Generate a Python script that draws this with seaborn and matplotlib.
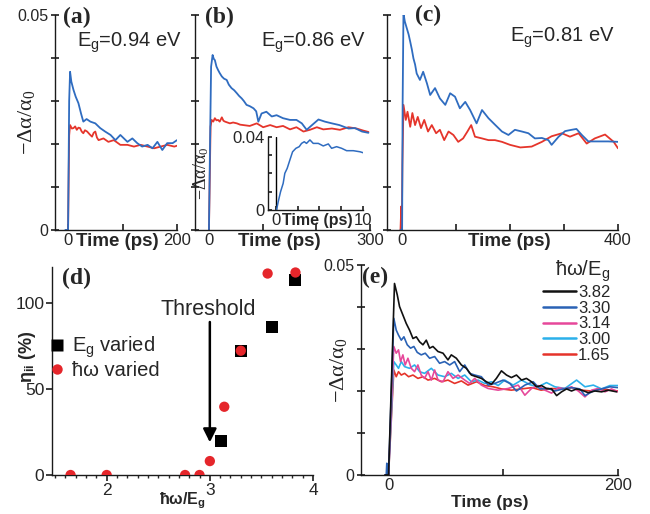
import matplotlib
matplotlib.use('Agg')
import matplotlib.pyplot as plt
from matplotlib.lines import Line2D
from matplotlib.ticker import MultipleLocator
import seaborn as sns

# ---------------- data ----------------
# (a) Eg = 0.94 eV
a_blue_t = [-5, 0, 2, 3.7, 6, 9.9, 14, 19, 24, 28, 34, 41, 50, 59, 68, 78, 87, 96, 109, 118, 127, 136, 146, 155, 164, 173, 182, 192, 200]
a_blue_v = [0, 0, 0.030, 0.0368, 0.0345, 0.0326, 0.031, 0.0295, 0.0270, 0.0252, 0.0258, 0.0252, 0.0248, 0.0237, 0.0229, 0.0221, 0.0209, 0.0221, 0.0205, 0.0213, 0.0202, 0.0194, 0.0198, 0.019, 0.0205, 0.0186, 0.0202, 0.0202, 0.0209]
a_red_t = [0, 2, 3.7, 7, 10, 13, 16, 19, 22, 25, 28, 31, 35, 40, 44, 47, 50, 53, 56, 65, 74, 84, 96, 109, 121, 133, 146, 158, 170, 182, 195, 200]
a_red_v = [0, 0.022, 0.0244, 0.0236, 0.0237, 0.0241, 0.0233, 0.0238, 0.0237, 0.0229, 0.0225, 0.0232, 0.0229, 0.0222, 0.0217, 0.0226, 0.0229, 0.0215, 0.0209, 0.0213, 0.0205, 0.0209, 0.0198, 0.0198, 0.0194, 0.0198, 0.0194, 0.019, 0.0194, 0.0198, 0.0194, 0.0196]

# (b) Eg = 0.86 eV
b_blue_t = [0, 2, 4, 6.8, 9, 11, 14, 17, 20, 24, 28, 33, 37, 42, 47, 52, 56, 61, 65, 70, 76, 83, 88, 92, 98, 107, 117, 126, 138, 151, 163, 173, 182, 192, 204, 216, 229, 243, 260, 272, 285, 297]
b_blue_v = [0, 0.02, 0.038, 0.0407, 0.0398, 0.0395, 0.0380, 0.0372, 0.0365, 0.0357, 0.0352, 0.0349, 0.0338, 0.033, 0.0325, 0.0318, 0.0312, 0.0306, 0.0300, 0.0291, 0.0288, 0.0283, 0.0276, 0.0252, 0.0271, 0.0275, 0.0264, 0.0267, 0.026, 0.0256, 0.0256, 0.0248, 0.0233, 0.0244, 0.0257, 0.0252, 0.0248, 0.0244, 0.0236, 0.0237, 0.0229, 0.0226]
b_red_t = [0, 3, 5, 8, 11, 14, 17, 20, 24, 27, 30, 39, 45, 52, 58, 64, 76, 89, 101, 114, 126, 138, 151, 163, 176, 188, 201, 213, 229, 244, 260, 275, 288, 297]
b_red_v = [0, 0.024, 0.0256, 0.0252, 0.026, 0.0255, 0.0256, 0.0252, 0.0262, 0.0254, 0.0252, 0.0248, 0.0250, 0.0248, 0.0245, 0.0244, 0.0242, 0.0248, 0.0239, 0.0244, 0.0239, 0.0242, 0.0234, 0.0239, 0.0229, 0.0233, 0.0239, 0.0234, 0.0236, 0.0233, 0.0239, 0.0236, 0.0231, 0.0228]

# (b) inset, first 10 ps
ins_t = [0.08, 0.27, 0.54, 0.84, 1.03, 1.3, 1.61, 1.92, 2.3, 2.68, 2.95, 3.26, 3.52, 3.91, 4.29, 4.87, 5.44, 6.02, 6.4, 6.97, 7.55, 8.12, 8.89, 9.66, 10.0]
ins_v = [0, 0.0045, 0.01, 0.0146, 0.0201, 0.0228, 0.0274, 0.0319, 0.0338, 0.0347, 0.0365, 0.0374, 0.0365, 0.0384, 0.0365, 0.0365, 0.0351, 0.0362, 0.0338, 0.0347, 0.0338, 0.0325, 0.0325, 0.0319, 0.0314]

# (c) Eg = 0.81 eV
c_blue_t = [-3, 0, 1, 2.5, 5, 8.7, 12, 15, 18, 21, 24, 27, 33, 39, 46, 52, 61, 70, 80, 89, 98, 107, 117, 126, 138, 148, 160, 172, 185, 197, 209, 222, 234, 246, 259, 271, 277, 290, 302, 314, 323, 333, 345, 357, 382, 400]
c_blue_v = [0, 0, 0.03, 0.0504, 0.0485, 0.0469, 0.0455, 0.0438, 0.0420, 0.0399, 0.0385, 0.0364, 0.0349, 0.0368, 0.0341, 0.0314, 0.033, 0.0306, 0.0291, 0.0318, 0.031, 0.0283, 0.0298, 0.0279, 0.0248, 0.0279, 0.026, 0.0245, 0.0229, 0.0221, 0.0233, 0.0229, 0.0225, 0.0213, 0.0214, 0.0209, 0.0198, 0.0217, 0.023, 0.0233, 0.0235, 0.0221, 0.0206, 0.0206, 0.0206, 0.0205]
c_red_t = [-3, -1.5, -0.5, 0.5, 2.5, 6.8, 10, 15, 19, 24, 29, 35, 41, 48, 55, 63, 70, 78, 86, 95, 104, 113, 121, 128, 135, 148, 160, 172, 185, 200, 219, 240, 259, 277, 296, 311, 327, 342, 357, 376, 392, 400]
c_red_v = [0, 0.0055, 0.001, 0.015, 0.0291, 0.0256, 0.0275, 0.024, 0.0272, 0.0244, 0.0263, 0.0237, 0.0256, 0.0229, 0.0244, 0.0225, 0.0233, 0.0209, 0.0229, 0.0221, 0.0205, 0.0213, 0.0229, 0.0244, 0.0217, 0.0213, 0.0209, 0.0209, 0.0205, 0.0198, 0.0192, 0.0194, 0.0205, 0.0218, 0.0225, 0.0217, 0.0225, 0.0201, 0.0213, 0.0222, 0.0205, 0.019]

# (d) impact ionisation efficiency
eg_ratio = [3.11, 3.30, 3.60, 3.83]
eg_eta = [19.8, 72.3, 86.3, 113.4]
hw_ratio = [1.65, 2.00, 2.76, 2.90, 3.00, 3.14, 3.30, 3.56, 3.83]
hw_eta = [0, 0, 0, 0, 8.1, 39.7, 72.3, 117.2, 117.8]

# (e) traces for several hw/Eg
e_382_t = [-3, 0, 5.2, 7.6, 9.6, 12.5, 15.4, 18.3, 21.3, 24.2, 27.1, 30, 32.9, 35.8, 38.7, 43.1, 47.5, 51.8, 54.7, 59.1, 63.5, 67.8, 72.2, 76.6, 80.9, 85.3, 89.7, 94, 98.4, 102.8, 107.1, 111.5, 115.9, 120.2, 124.6, 129, 133.3, 137.7, 142.1, 146.5, 150.8, 155.2, 159.5, 163.9, 168.3, 174.1, 179.9, 185.7, 191.5, 198.8]
e_382_v = [0, 0, 0.0456, 0.0429, 0.0401, 0.0381, 0.0361, 0.0345, 0.0325, 0.0329, 0.0317, 0.031, 0.0321, 0.0302, 0.0306, 0.0294, 0.029, 0.0274, 0.0286, 0.0278, 0.0262, 0.0254, 0.0238, 0.0234, 0.023, 0.0222, 0.0216, 0.023, 0.0248, 0.0238, 0.0232, 0.0238, 0.0226, 0.023, 0.0222, 0.021, 0.0213, 0.0206, 0.0205, 0.0189, 0.0198, 0.0205, 0.02, 0.0205, 0.0202, 0.0196, 0.02, 0.0198, 0.0202, 0.0198]
e_330_t = [-3, -2, -1.5, -1, 0, 4.6, 6.7, 8.7, 11.1, 13.4, 16.3, 19.2, 22.1, 25, 28.5, 32, 35.8, 40.2, 44.5, 48.9, 53.3, 57.6, 62, 66.4, 70.7, 75.1, 80.9, 86.8, 92.6, 99.9, 105.7, 111.5, 118.8, 126.1, 131.9, 139.2, 145, 152.3, 159.5, 166.8, 171.2, 178.5, 185.7, 193, 200]
e_330_v = [0, 0, 0.0028, 0, 0, 0.0373, 0.0345, 0.0333, 0.0321, 0.0329, 0.031, 0.0302, 0.0306, 0.0292, 0.0286, 0.029, 0.0278, 0.0282, 0.0266, 0.027, 0.0262, 0.027, 0.0246, 0.0262, 0.0242, 0.0238, 0.0234, 0.0214, 0.0218, 0.0226, 0.0218, 0.02, 0.0214, 0.0222, 0.0205, 0.0206, 0.02, 0.0205, 0.0208, 0.0205, 0.0189, 0.02, 0.0205, 0.021, 0.0208]
e_314_t = [-3, 0, 4.6, 6.7, 8.7, 10.5, 12.5, 14.5, 16.9, 19.8, 22.7, 25.6, 28.5, 31.4, 34.4, 37.3, 40.2, 43.1, 47.5, 51.8, 56.2, 60.6, 66.4, 70.7, 75.1, 80.9, 86.8, 95.5, 104.3, 113, 118.8, 124.6, 130.4, 136.3, 142.1, 147.9, 153.7, 159.5, 165.4, 171.2, 177, 182.8, 188.6, 194.4, 200]
e_314_v = [0, 0, 0.0306, 0.029, 0.0298, 0.027, 0.0286, 0.0262, 0.0278, 0.0254, 0.0246, 0.0262, 0.0238, 0.023, 0.0246, 0.0226, 0.025, 0.0226, 0.0222, 0.0246, 0.023, 0.0238, 0.0226, 0.0218, 0.023, 0.0214, 0.0206, 0.0202, 0.0206, 0.0214, 0.019, 0.0206, 0.0213, 0.0202, 0.0195, 0.0208, 0.0205, 0.021, 0.02, 0.0186, 0.0202, 0.0206, 0.0198, 0.0205, 0.0198]
e_300_t = [-3, 0, 4.6, 6.7, 8.7, 11.1, 14, 18.3, 22.7, 27.1, 31.4, 37.3, 43.1, 48.9, 54.7, 60.6, 66.4, 72.2, 78, 83.9, 89.7, 95.5, 101.3, 108.6, 115.9, 123.2, 130.4, 137.7, 145, 153.7, 163.9, 171.2, 178.5, 185.7, 193, 200]
e_300_v = [0, 0, 0.027, 0.0262, 0.0254, 0.027, 0.0258, 0.0254, 0.0262, 0.0246, 0.0242, 0.0254, 0.0238, 0.0234, 0.0242, 0.023, 0.0238, 0.0222, 0.0226, 0.0218, 0.0222, 0.0213, 0.0226, 0.0214, 0.0226, 0.0215, 0.021, 0.022, 0.021, 0.0206, 0.0226, 0.021, 0.0214, 0.0205, 0.0213, 0.0213]
e_165_t = [-3, 0, 4.6, 6.7, 8.7, 11.1, 14, 17.5, 21.3, 25.6, 30, 34.4, 40.2, 46, 51.8, 57.6, 63.5, 69.3, 76.6, 83.9, 91.1, 98.4, 107, 116, 125, 133, 142, 151, 160, 168, 177, 186, 194, 200]
e_165_v = [0, 0, 0.025, 0.0234, 0.0246, 0.0238, 0.0242, 0.0234, 0.0238, 0.023, 0.0234, 0.0226, 0.023, 0.0222, 0.0226, 0.0218, 0.0224, 0.0214, 0.0222, 0.0213, 0.021, 0.0205, 0.0202, 0.0205, 0.0208, 0.0202, 0.0206, 0.0205, 0.0208, 0.0202, 0.02, 0.0205, 0.0202, 0.02]
e_labels = ['3.82', '3.30', '3.14', '3.00', '1.65']

# ---------------- style ----------------
sns.set_theme(style='ticks')
plt.rcParams['font.family'] = ['Liberation Sans', 'DejaVu Sans']
plt.rcParams['mathtext.fontset'] = 'custom'
plt.rcParams['mathtext.rm'] = 'Liberation Serif'
plt.rcParams['mathtext.it'] = 'Liberation Serif:italic'
plt.rcParams['mathtext.bf'] = 'Liberation Sans:bold'
plt.rcParams['axes.linewidth'] = 1.0
plt.rcParams['axes.edgecolor'] = '#1a1a1a'

BLUE = '#2f6cc0'
RED = '#e5352b'
E_COLORS = ['#111111', '#2a62b5', '#e6489a', '#2bb0ea', '#e5332a']
YLAB = r'$\mathrm{-\Delta\alpha/\alpha_0}$'

fig = plt.figure(figsize=(6.5, 5.14), dpi=100)
W, H = 650.0, 514.0


def px_axes(l, t, r, b):
    return fig.add_axes([l / W, 1 - b / H, (r - l) / W, (b - t) / H])


def trace(ax, t, v, color, lw=1.3):
    sns.lineplot(x=t, y=v, ax=ax, color=color, linewidth=lw, sort=False,
                 estimator=None, legend=False)


def panel_label(ax, s, x, y):
    ax.text(x, y, s, transform=ax.transAxes, ha='left', va='center',
            fontsize=17, fontweight='bold', family='Liberation Serif')


def time_label(ax, xf, size):
    ax.annotate('Time (ps)', xy=(xf, 0), xycoords='axes fraction', xytext=(0, -2.5),
                textcoords='offset points', ha='center', va='top',
                fontsize=size, fontweight='bold')


def decay_axes(ax, xmin, xmax, step, ylabels):
    ax.set_xlim(xmin, xmax)
    ax.set_ylim(0, 0.05)
    xt = list(range(0, xmax + 1, step))
    ax.set_xticks(xt)
    ax.set_xticklabels(['0'] + [''] * (len(xt) - 2) + [str(xmax)])
    ax.set_yticks([0, 0.01, 0.02, 0.03, 0.04, 0.05])
    if ylabels:
        ax.set_yticklabels(['0', '', '', '', '', '0.05'])
    else:
        ax.set_yticklabels([])
    ax.tick_params(axis='x', direction='in', length=4, pad=2.5, labelsize=12)
    ax.tick_params(axis='y', direction='inout', length=6, pad=1.5, labelsize=11.5)
    ax.set_xlabel('')
    ax.set_ylabel('')
    sns.despine(ax=ax)


# ---------------- (a) ----------------
ax_a = px_axes(55, 15, 177, 230)
trace(ax_a, a_red_t, a_red_v, RED)
trace(ax_a, a_blue_t, a_blue_v, BLUE)
decay_axes(ax_a, -24, 200, 100, True)
ax_a.set_ylabel(YLAB, fontsize=16)
ax_a.yaxis.set_label_coords(-0.15, 0.5)
time_label(ax_a, 0.51, 13.5)
panel_label(ax_a, '(a)', 0.066, 0.99)
ax_a.text(0.18, 0.853, r'E$_\mathregular{g}$=0.94 eV', transform=ax_a.transAxes,
          fontsize=14.5, va='baseline', ha='left')

# ---------------- (b) ----------------
ax_b = px_axes(195, 15, 370, 230)
trace(ax_b, b_red_t, b_red_v, RED)
trace(ax_b, b_blue_t, b_blue_v, BLUE)
decay_axes(ax_b, -26, 300, 100, False)
time_label(ax_b, 0.48, 13.5)
panel_label(ax_b, '(b)', 0.056, 0.99)
ax_b.text(0.379, 0.853, r'E$_\mathregular{g}$=0.86 eV', transform=ax_b.transAxes,
          fontsize=14.5, va='baseline', ha='left')

# inset of (b)
ax_i = px_axes(268, 137, 363, 210)
ax_i.patch.set_alpha(0)
ax_i.axvline(0, color='black', lw=1.0)
trace(ax_i, ins_t, ins_v, BLUE, lw=1.1)
ax_i.set_xlim(-0.9, 10)
ax_i.set_ylim(0, 0.04)
ax_i.set_xticks([0, 2.5, 5, 7.5, 10])
ax_i.set_xticklabels(['0', '', '', '', '10'])
ax_i.set_yticks([0, 0.01, 0.02, 0.03, 0.04])
ax_i.set_yticklabels(['0', '', '', '', '0.04'])
ax_i.tick_params(axis='both', direction='in', length=3, pad=2.5, labelsize=12)
ax_i.set_xlabel('')
ax_i.set_ylabel(YLAB, fontsize=13)
ax_i.yaxis.set_label_coords(-0.6, 0.5)
time_label(ax_i, 0.52, 11.5)
sns.despine(ax=ax_i)

# ---------------- (c) ----------------
ax_c = px_axes(387, 15, 618, 230)
trace(ax_c, c_red_t, c_red_v, RED)
trace(ax_c, c_blue_t, c_blue_v, BLUE)
decay_axes(ax_c, -28, 400, 100, False)
time_label(ax_c, 0.53, 13.5)
panel_label(ax_c, '(c)', 0.121, 1.0)
ax_c.text(0.532, 0.876, r'E$_\mathregular{g}$=0.81 eV', transform=ax_c.transAxes,
          fontsize=14.5, va='baseline', ha='left')

# ---------------- (d) ----------------
ax_d = px_axes(52, 267, 313, 475)
sns.scatterplot(x=eg_ratio, y=eg_eta, ax=ax_d, marker='s', s=75, color='black',
                edgecolor='none', zorder=3, legend=False)
sns.scatterplot(x=hw_ratio, y=hw_eta, ax=ax_d, marker='o', s=55, color='#e5262b',
                edgecolor='none', zorder=4, legend=False)
ax_d.set_xlim(1.47, 4.0)
ax_d.set_ylim(0, 121)
ax_d.set_xticks([2, 3, 4])
ax_d.xaxis.set_minor_locator(MultipleLocator(0.1))
ax_d.set_yticks([0, 50, 100])
ax_d.tick_params(axis='both', which='major', direction='out', length=4, pad=1.5,
                 labelsize=12.5)
ax_d.tick_params(axis='x', which='minor', direction='out', length=2)
ax_d.set_xlabel('ħω/E$_\\mathregular{g}$', fontsize=11.5, fontweight='bold', labelpad=-5)
ax_d.set_ylabel('η$_\\mathregular{ii}$ (%)', fontsize=13, fontweight='bold')
ax_d.yaxis.set_label_coords(-0.055, 0.57)
ax_d.annotate('', xy=(3.0, 19), xytext=(3.0, 89),
              arrowprops=dict(arrowstyle='-|>', color='black', lw=1.8,
                              mutation_scale=20, shrinkA=0, shrinkB=0))
ax_d.text(2.98, 93, 'Threshold', ha='center', va='baseline', fontsize=15.5)
d_handles = [Line2D([], [], ls='none', marker='s', ms=8.5, color='black', mec='none'),
             Line2D([], [], ls='none', marker='o', ms=7.5, color='#e5262b', mec='none')]
ax_d.legend(d_handles, ['E$_\\mathregular{g}$ varied', 'ħω varied'], loc='center left',
            bbox_to_anchor=(-0.01, 0.565), frameon=False, fontsize=14.5,
            handlelength=0.8, handletextpad=0.3, labelspacing=0.05, borderaxespad=0,
            borderpad=0)
panel_label(ax_d, '(d)', 0.038, 0.947)
sns.despine(ax=ax_d)

# ---------------- (e) ----------------
ax_e = px_axes(361, 265, 618, 475)
e_series = [(e_165_t, e_165_v, E_COLORS[4]), (e_300_t, e_300_v, E_COLORS[3]),
            (e_314_t, e_314_v, E_COLORS[2]), (e_330_t, e_330_v, E_COLORS[1]),
            (e_382_t, e_382_v, E_COLORS[0])]
for t, v, col in e_series:
    trace(ax_e, t, v, col, lw=1.2)
decay_axes(ax_e, -24, 200, 100, True)
ax_e.set_ylabel(YLAB, fontsize=16)
ax_e.yaxis.set_label_coords(-0.045, 0.5)
ax_e.set_xlabel('Time (ps)', fontsize=12.5, fontweight='bold', labelpad=1)
panel_label(ax_e, '(e)', 0.004, 0.943)
e_handles = [Line2D([], [], color=c, lw=1.8) for c in E_COLORS]
leg = ax_e.legend(e_handles, e_labels, title='ħω/E$_\\mathregular{g}$', loc='upper right',
                  bbox_to_anchor=(0.97, 1.03), frameon=False, fontsize=12,
                  title_fontsize=14.5, handlelength=2.0, handletextpad=0.1,
                  labelspacing=0.05, borderpad=0, borderaxespad=0)
leg._legend_box.align = 'right'

fig.savefig('out.png', dpi=100)
